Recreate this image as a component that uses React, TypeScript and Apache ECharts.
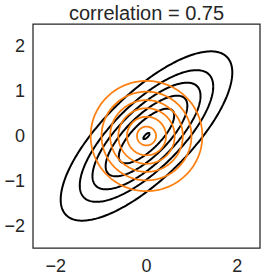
import React, { useEffect, useRef } from "react";
import * as echarts from "echarts";

// Values
const titleText = "correlation = 0.75";
const correlation = 0.75;
// Mahalanobis radii of the black (correlated) contour levels, outer to inner
const blackRadii = [1.89, 1.47, 1.19, 0.9, 0.61, 0.07];
// radii of the orange (isotropic) contour circles, outer to inner
const orangeRadii = [1.23, 0.99, 0.8, 0.62, 0.43, 0.21];
const xTickLabels = [-2, 0, 2];
const yTickLabels = [-2, -1, 0, 1, 2];
const axisMin = -2.5;
const axisMax = 2.5;

const STEPS = 240;

function ellipsePoints(r: number, rho: number): number[][] {
  const pts: number[][] = [];
  const s = Math.sqrt(1 - rho * rho);
  for (let i = 0; i <= STEPS; i++) {
    const t = (i / STEPS) * Math.PI * 2;
    const c = Math.cos(t);
    const sn = Math.sin(t);
    pts.push([r * c, r * (rho * c + s * sn)]);
  }
  return pts;
}

const fmt = (v: number) => (v < 0 ? "\u2212" + Math.abs(v) : String(v));

export default function App() {
  const ref = useRef<HTMLDivElement>(null);
  useEffect(() => {
    if (!ref.current) return;
    const chart = echarts.init(ref.current, undefined, { renderer: "svg" });
    const font = '"Liberation Sans", Arial, sans-serif';
    const textColor = "#262626";
    const series: any[] = [];
    blackRadii.forEach((r) => {
      series.push({
        type: "line",
        data: ellipsePoints(r, correlation),
        showSymbol: false,
        symbol: "none",
        lineStyle: { color: "#000000", width: 2 },
        clip: true,
        z: 2,
      });
    });
    orangeRadii.forEach((r) => {
      series.push({
        type: "line",
        data: ellipsePoints(r, 0),
        showSymbol: false,
        symbol: "none",
        lineStyle: { color: "#ff7f0e", width: 1.75 },
        clip: true,
        z: 3,
      });
    });
    chart.setOption({
      animation: false,
      backgroundColor: "#ffffff",
      graphic: [
        {
          type: "text",
          x: 146.5,
          y: 13,
          style: {
            text: titleText,
            fontSize: 20,
            fontFamily: font,
            fill: textColor,
            textAlign: "center",
            textVerticalAlign: "middle",
          },
        },
      ],
      grid: {
        left: 33,
        top: 24,
        width: 227,
        height: 224,
        show: true,
        borderColor: textColor,
        borderWidth: 1.25,
        backgroundColor: "#ffffff",
      },
      xAxis: {
        type: "value",
        min: axisMin,
        max: axisMax,
        interval: 0.5,
        axisLine: { show: false },
        axisTick: { show: false },
        splitLine: { show: false },
        axisLabel: {
          margin: 9,
          fontSize: 18,
          fontFamily: font,
          color: textColor,
          showMinLabel: true,
          showMaxLabel: true,
          formatter: (v: number) => (xTickLabels.includes(v) ? fmt(v) : ""),
        },
      },
      yAxis: {
        type: "value",
        min: axisMin,
        max: axisMax,
        interval: 0.5,
        axisLine: { show: false },
        axisTick: { show: false },
        splitLine: { show: false },
        axisLabel: {
          margin: 8,
          fontSize: 18,
          fontFamily: font,
          color: textColor,
          formatter: (v: number) => (yTickLabels.includes(v) ? fmt(v) : ""),
        },
      },
      series,
    });
    return () => chart.dispose();
  }, []);
  return (
    <div
      ref={ref}
      style={{ position: "absolute", left: 0, top: 0, width: 266, height: 279 }}
    />
  );
}
